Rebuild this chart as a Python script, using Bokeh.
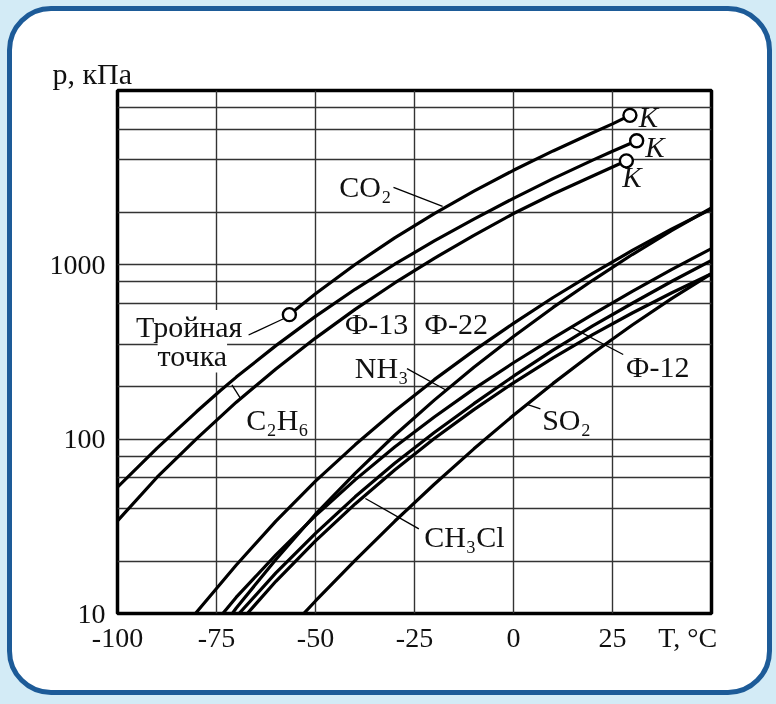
from bokeh.plotting import figure
from bokeh.models import (FixedTicker, PrintfTickFormatter, Label, Range1d,
                          GlobalInlineStyleSheet)
from bokeh.embed import file_html
from bokeh.resources import INLINE

# ---------------- data (T in °C, p in kPa) ----------------
co2_t = [-56.6, -50, -40, -30, -20, -10, 0, 10, 20, 25, 29.4]
co2_p = [518, 682, 1005, 1428, 1969, 2649, 3485, 4502, 5729, 6434, 7200]

c2h6_t = [-100, -90, -80, -74, -70, -60, -50, -40, -30, -20, -10, 0, 10, 20, 25, 31.1]
c2h6_p = [53, 88.8, 144, 190, 227, 344, 506, 724, 1008, 1372, 1830, 2407, 3123, 3986, 4482, 5150]

f13_t = [-100, -90, -80, -70, -60, -50, -40, -30, -20, -10, 0, 10, 20, 28.5]
f13_p = [34, 60.5, 100.7, 163, 252.5, 380, 555, 787, 1090, 1476, 1969, 2550, 3230, 3950]

nh3_t = [-75, -70, -60, -50, -40, -30, -20, -10, 0, 10, 20, 30, 40, 50]
nh3_p = [7.55, 10.75, 20.4, 37.1, 63.6, 105.3, 167.5, 258.2, 388.1, 569.7, 815.3, 1146, 1577, 2120]

f22_t = [-85, -80, -70, -60, -50, -40, -30, -20, -10, 0, 10, 20, 30, 40, 50]
f22_p = [7.18, 10.21, 18.98, 33.9, 57.4, 92.8, 144.9, 219.5, 322.1, 461.8, 649.6, 892.8, 1209, 1607, 2090]

f12_t = [-80, -70, -60, -50, -40, -30, -20, -10, 0, 10, 20, 30, 40, 50]
f12_p = [6.59, 12.4, 21.7, 36.4, 58.4, 90.1, 134.0, 194.4, 274.4, 379.9, 519.9, 704.9, 942.5, 1240]

ch3cl_t = [-75, -70, -60, -50, -40, -30, -20, -10, 0, 10, 20, 30, 40, 50]
ch3cl_p = [7.0, 9.6, 17.1, 28.8, 46.7, 72.7, 109.2, 159.8, 229.7, 323.8, 446.1, 602, 805, 1060]

# unlabelled curve between CH3Cl and SO2
extra_t = [-70, -60, -50, -40, -30, -20, -10, 0, 10, 20, 30, 40, 50]
extra_p = [8.48, 15.3, 26.1, 42.5, 66.6, 100.8, 147.7, 210.5, 292.4, 397.4, 529.3, 692, 890]

so2_t = [-60, -50, -40, -30, -20, -10, 0, 10, 20, 30, 40, 50]
so2_p = [6.74, 11.8, 20.2, 33.8, 55.1, 88.0, 137.1, 208.9, 310.9, 451.7, 641.5, 890]

x_ticks = [-100, -75, -50, -25, 0, 25]
y_ticks = [10, 100, 1000]
y_grid = [20, 40, 60, 80, 100, 200, 350, 600, 800, 1000, 2000, 4000, 6000, 8000]
x_grid = [-75, -50, -25, 0, 25]
x_title = "T, \u00b0C"
x_title_at = 44
y_title = "p, \u043a\u041f\u0430"

# label anchors (T, p)
labels = [
    ("CO\u2082", -37.4, 2800),
    ("\u0424-13", -34.6, 460),
    ("\u0424-22", -14.5, 460),
    ("NH\u2083", -33.3, 256),
    ("C\u2082H\u2086", -59.6, 130),
    ("SO\u2082", 13.4, 130),
    ("\u0424-12", 36.4, 260),
    ("CH\u2083Cl", -12.4, 27.5),
]
leaders = [
    (-30.3, 2780, -17.9, 2163),
    (-66.9, 396, -57.8, 494),
    (-26.9, 254, -17.2, 192),
    (27.7, 306, 14.8, 436),
    (-68.9, 171, -71.1, 205),
    (6.8, 149, 3.6, 158),
    (-23.9, 30.6, -37.4, 45.7),
]

FONT = "Liberation Serif"
INK = "#111111"
CSS = """
body { background-color: #d3ebf6; }
body::before { content: ""; position: fixed; left: 7px; top: 6px; width: 765px; height: 689px;
  box-sizing: border-box; border: 5px solid #1d5b98; border-radius: 44px;
  background: #ffffff; z-index: -1; }
"""

p = figure(width=776, height=704, output_backend="svg", toolbar_location=None,
           x_range=Range1d(-100, 50), y_range=Range1d(10, 10000), y_axis_type="log",
           min_border_left=117, min_border_right=65, min_border_top=90, min_border_bottom=91)
p.stylesheets = [GlobalInlineStyleSheet(css=CSS)]
p.border_fill_color = None
p.background_fill_color = "white"
p.outline_line_color = "black"
p.outline_line_width = 3.5

p.title.text = y_title
p.title.align = "left"
p.title.offset = -65
p.title.standoff = 1
p.title.text_font = FONT
p.title.text_font_size = "30px"
p.title.text_font_style = "normal"
p.title.text_color = INK

for g in (p.xgrid, p.ygrid):
    g.grid_line_color = "#333333"
    g.grid_line_width = 1.4
p.xgrid.ticker = FixedTicker(ticks=x_grid)
p.ygrid.ticker = FixedTicker(ticks=y_grid)

p.xaxis.ticker = FixedTicker(ticks=x_ticks + [x_title_at])
p.xaxis.major_label_overrides = {x_title_at: x_title}
p.yaxis.ticker = FixedTicker(ticks=y_ticks)
p.xaxis.formatter = PrintfTickFormatter(format="%d")
p.yaxis.formatter = PrintfTickFormatter(format="%d")
for ax in (p.xaxis, p.yaxis):
    ax.axis_line_color = None
    ax.major_tick_line_color = None
    ax.minor_tick_line_color = None
    ax.major_label_text_font = FONT
    ax.major_label_text_font_size = "28px"
    ax.major_label_text_color = INK
p.xaxis.major_label_standoff = 2
p.yaxis.major_label_standoff = 6

series = [(co2_t, co2_p), (c2h6_t, c2h6_p), (f13_t, f13_p), (nh3_t, nh3_p),
          (f22_t, f22_p), (f12_t, f12_p), (ch3cl_t, ch3cl_p), (extra_t, extra_p),
          (so2_t, so2_p)]
for t, pr in series:
    p.line(t, pr, line_color="black", line_width=3.2)

for (x0, y0, x1, y1) in leaders:
    p.segment(x0=[x0], y0=[y0], x1=[x1], y1=[y1], line_color="black", line_width=1.3)

pts_t = [co2_t[0], co2_t[-1], c2h6_t[-1], f13_t[-1]]
pts_p = [co2_p[0], co2_p[-1], c2h6_p[-1], f13_p[-1]]
p.scatter(pts_t, pts_p, marker="circle", size=13, fill_color="white",
          line_color="black", line_width=2.4)

def lab(text, x, y, align="center", style="normal", size="30px", bg=None):
    l = Label(x=x, y=y, text=text, text_font=FONT, text_font_size=size,
              text_align=align, text_baseline="middle", text_color=INK,
              text_font_style=style)
    if bg:
        l.background_fill_color = bg
    p.add_layout(l)

for text, x, y in labels:
    lab(text, x, y)

lab("\u0422\u0440\u043e\u0439\u043d\u0430\u044f", -81.9, 443, bg="white")
lab("\u0442\u043e\u0447\u043a\u0430", -81.1, 300, bg="white")

# critical points
lab("K", 31.6, 7030, style="italic", align="left", size="29px")
lab("K", 33.3, 4730, style="italic", align="left", size="29px")
lab("K", 29.9, 3185, style="italic", size="29px")

open("out.html", "w").write(file_html(p, INLINE))
